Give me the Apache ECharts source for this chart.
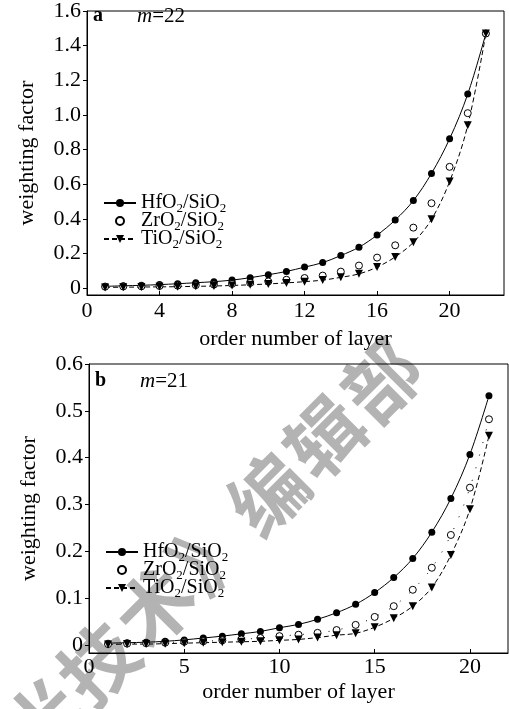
<!DOCTYPE html>
<html>
<head>
<meta charset="utf-8">
<script src="https://cdn.jsdelivr.net/npm/echarts@6/dist/echarts.min.js"></script>
<style>html,body{margin:0;padding:0;background:#fff;}#c{width:509px;height:709px;}</style>
</head>
<body>
<div id="c"></div>
<script>
// ---- Panel a (m=22) ----
const layersA = [1,2,3,4,5,6,7,8,9,10,11,12,13,14,15,16,17,18,19,20,21,22];
const hfA = [0.010,0.013,0.016,0.020,0.025,0.031,0.037,0.046,0.060,0.077,0.096,0.121,0.147,0.188,0.236,0.306,0.393,0.505,0.662,0.862,1.12,1.47];
const zrA = [0.008,0.009,0.010,0.012,0.014,0.017,0.020,0.024,0.030,0.038,0.048,0.058,0.072,0.095,0.130,0.176,0.247,0.349,0.490,0.700,1.01,1.47];
const tiA = [0.004,0.005,0.006,0.007,0.008,0.010,0.012,0.015,0.019,0.024,0.030,0.037,0.046,0.062,0.082,0.121,0.180,0.264,0.397,0.615,0.94,1.47];
const xTicksA = [0,4,8,12,16,20];
const yTicksA = [0,0.2,0.4,0.6,0.8,1.0,1.2,1.4,1.6];

// ---- Panel b (m=21) ----
const layersB = [1,2,3,4,5,6,7,8,9,10,11,12,13,14,15,16,17,18,19,20,21];
const hfB = [0.004,0.005,0.006,0.008,0.011,0.015,0.019,0.024,0.029,0.037,0.044,0.055,0.069,0.087,0.112,0.144,0.185,0.241,0.313,0.407,0.532];
const zrB = [0.002,0.003,0.004,0.005,0.007,0.008,0.010,0.012,0.015,0.019,0.022,0.026,0.032,0.043,0.060,0.083,0.118,0.165,0.235,0.336,0.482];
const tiB = [0.001,0.002,0.002,0.003,0.004,0.005,0.006,0.007,0.008,0.010,0.012,0.016,0.021,0.025,0.038,0.057,0.083,0.123,0.192,0.290,0.447];
const xTicksB = [0,5,10,15,20];
const yTicksB = [0,0.1,0.2,0.3,0.4,0.5,0.6];

const seriesNames = ['HfO2/SiO2','ZrO2/SiO2','TiO2/SiO2'];
const watermarkChars = ['《','激','光','技','术','》','编','辑','部'];

const SERIF = '"Liberation Serif","DejaVu Serif",serif';
const pairs = (xs, ys) => xs.map((x, i) => [x, ys[i]]);
const yFmt = v => (Math.abs(v) < 1e-9 ? '0' : v.toFixed(1));

function xAxisDef(gi, max, ticks, labelMargin, nameGap) {
  return {
    type: 'value', gridIndex: gi, min: 0, max: max,
    axisLine: {show: true, onZero: false, lineStyle: {color: '#000', width: 1}},
    axisTick: {show: true, inside: true, length: 4, customValues: ticks, lineStyle: {color: '#000'}},
    axisLabel: {customValues: ticks, color: '#000', fontFamily: SERIF, fontSize: 22, margin: labelMargin},
    splitLine: {show: false},
    name: 'order number of layer', nameLocation: 'middle', nameGap: nameGap,
    nameTextStyle: {color: '#000', fontFamily: SERIF, fontSize: 22}
  };
}
function yAxisDef(gi, min, max, ticks) {
  return {
    type: 'value', gridIndex: gi, min: min, max: max,
    axisLine: {show: true, onZero: false, lineStyle: {color: '#000', width: 1}},
    axisTick: {show: true, inside: false, length: 4, customValues: ticks, lineStyle: {color: '#000'}},
    axisLabel: {customValues: ticks, formatter: yFmt, color: '#000', fontFamily: SERIF, fontSize: 22, margin: 6},
    splitLine: {show: false},
    name: 'weighting factor', nameLocation: 'middle', nameGap: 49,
    nameTextStyle: {color: '#000', fontFamily: SERIF, fontSize: 22}
  };
}

function mkSeries(panel, gi, xs, hf, zr, ti, zrLine) {
  return [
    {
      name: panel + seriesNames[0], type: 'line', xAxisIndex: gi, yAxisIndex: gi,
      data: pairs(xs, hf), smooth: 0.35,
      symbol: 'circle', symbolSize: 7,
      itemStyle: {color: '#000'},
      lineStyle: {color: '#000', width: 1}
    },
    {
      name: panel + seriesNames[1], type: 'line', xAxisIndex: gi, yAxisIndex: gi,
      data: pairs(xs, zr), smooth: 0.35,
      symbol: 'circle', symbolSize: 7,
      itemStyle: {color: '#fff', borderColor: '#000', borderWidth: 1},
      lineStyle: zrLine
    },
    {
      name: panel + seriesNames[2], type: 'line', xAxisIndex: gi, yAxisIndex: gi,
      data: pairs(xs, ti), smooth: 0.35,
      symbol: 'triangle', symbolSize: 8, symbolRotate: 180,
      itemStyle: {color: '#000'},
      lineStyle: {color: '#000', width: 1, type: [5, 3]}
    }
  ];
}

const richLegend = {
  n: {fontFamily: SERIF, fontSize: 20, color: '#000', lineHeight: 18},
  s: {fontFamily: SERIF, fontSize: 13, color: '#000', lineHeight: 18, height: 5, padding: [11, 0, 0, 0]}
};
function legendFmt(name) {
  const base = name.slice(1).replace('O2/SiO2', '');
  return '{n|' + base + 'O}{s|2}{n|/SiO}{s|2}';
}
function legendDef(panel, left, top) {
  return {
    data: [
      {name: panel + seriesNames[0]},
      {name: panel + seriesNames[1], lineStyle: {opacity: 0, width: 0}},
      {name: panel + seriesNames[2]}
    ],
    orient: 'vertical', left: left, top: top, padding: 0,
    itemWidth: 32, itemHeight: 10, itemGap: -4,
    formatter: legendFmt, selectedMode: false,
    textStyle: {fontFamily: SERIF, fontSize: 20, color: '#000', lineHeight: 18, rich: richLegend}
  };
}

// watermark characters placed along a 45-degree line
const wmCenter = [155, 607], wmStep = 80, wmAngle = 45 * Math.PI / 180;
const watermark = watermarkChars.map((ch, i) => {
  const k = i - 4;
  return {
    type: 'text', silent: true, z: -10,
    x: wmCenter[0] + k * wmStep * Math.cos(wmAngle),
    y: wmCenter[1] - k * wmStep * Math.sin(wmAngle),
    rotation: wmAngle,
    style: {text: ch, font: 'bold 76px "Noto Sans CJK SC"', fill: 'rgba(160,160,160,0.8)',
            textAlign: 'center', textVerticalAlign: 'middle'}
  };
});

const chart = echarts.init(document.getElementById('c'), null, {renderer: 'canvas'});
chart.setOption({
  animation: false,
  backgroundColor: '#fff',
  grid: [
    {left: 87, top: 7, width: 417, height: 288, show: true, borderColor: '#000', borderWidth: 1},
    {left: 89, top: 364, width: 419, height: 289, show: true, borderColor: '#000', borderWidth: 1}
  ],
  xAxis: [xAxisDef(0, 23, xTicksA, 5, 33), xAxisDef(1, 22, xTicksB, 3, 28)],
  yAxis: [yAxisDef(0, -0.04, 1.6, yTicksA), yAxisDef(1, -0.017, 0.6, yTicksB)],
  legend: [legendDef('a', 103, 193), legendDef('b', 105, 542)],
  series: [].concat(
    mkSeries('a', 0, layersA, hfA, zrA, tiA, {opacity: 0, width: 0}),
    mkSeries('b', 1, layersB, hfB, zrB, tiB, {color: '#000', width: 1, type: [1, 12]})
  ),
  graphic: [
    {type: 'text', left: 93, top: 6, z: 10, style: {text: 'a', font: 'bold 20px ' + SERIF, fill: '#000'}},
    {type: 'text', left: 137, top: 6, z: 10, style: {text: '{i|m}{n|=22}', rich: {
      i: {fontFamily: SERIF, fontSize: 21, fontStyle: 'italic', fill: '#000'},
      n: {fontFamily: SERIF, fontSize: 21, fill: '#000'}}}},
    {type: 'text', left: 95, top: 371, z: 10, style: {text: 'b', font: 'bold 20px ' + SERIF, fill: '#000'}},
    {type: 'text', left: 140, top: 371, z: 10, style: {text: '{i|m}{n|=21}', rich: {
      i: {fontFamily: SERIF, fontSize: 21, fontStyle: 'italic', fill: '#000'},
      n: {fontFamily: SERIF, fontSize: 21, fill: '#000'}}}}
  ].concat(watermark)
});
</script>
</body>
</html>
